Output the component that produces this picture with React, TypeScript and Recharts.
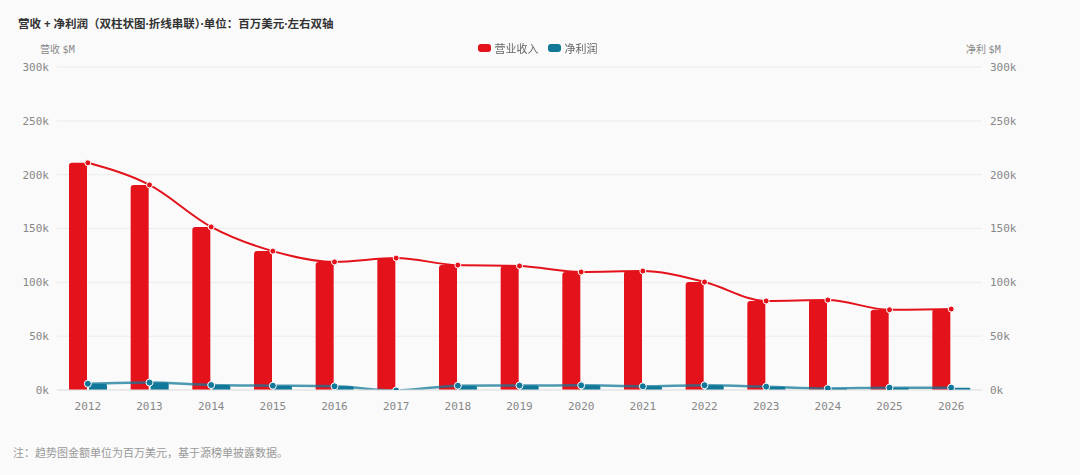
import React from 'react'
import {
  Bar,
  CartesianGrid,
  ComposedChart,
  Line,
  XAxis,
  YAxis,
} from 'recharts'

const RED = '#E3121B'
const BLUE = '#12789A'
const MONO = '"DejaVu Sans Mono", monospace'
const CJK = '"Noto Sans", "Noto Sans CJK SC", sans-serif'

const years = ['2012', '2013', '2014', '2015', '2016', '2017', '2018', '2019', '2020', '2021', '2022', '2023', '2024', '2025', '2026']
// 百万美元
const revenue = [211000, 190500, 151500, 129000, 119000, 122500, 116000, 115200, 109600, 110500, 100300, 82700, 83600, 74500, 75200]
const profit = [5800, 6900, 4600, 4000, 3400, -500, 4000, 4200, 4300, 3400, 4400, 3100, 1500, 2200, 2200]
const yTicks = [0, 50000, 100000, 150000, 200000, 250000, 300000]

const data = years.map((year, i) => ({ year, revenue: revenue[i], profit: profit[i] }))

const fmtK = (v: number) => `${v / 1000}k`

function LegendBox() {
  const item = (color: string, label: string) => (
    <span style={{ display: 'inline-flex', alignItems: 'center', marginRight: 9 }}>
      <span style={{ width: 13, height: 8, borderRadius: 3, background: color, marginRight: 4 }} />
      <span style={{ fontSize: 11, color: '#666', fontFamily: CJK }}>{label}</span>
    </span>
  )
  return (
    <div style={{ position: 'absolute', left: 0, top: 40, width: 1080, display: 'flex', justifyContent: 'center', paddingLeft: 2 }}>
      {item(RED, '营业收入')}
      {item(BLUE, '净利润')}
    </div>
  )
}

export default function App() {
  return (
    <div style={{ position: 'fixed', left: 0, top: 0, width: 1080, height: 475, background: '#fafafa' }}>
      <ComposedChart
        width={1080}
        height={475}
        data={data}
        margin={{ top: 67, right: 0, bottom: 55, left: 0 }}
        barGap={2}
        style={{ position: 'absolute', left: 0, top: 0 }}
      >
        <CartesianGrid yAxisId="left" vertical={false} stroke="#ebebeb" />
        <XAxis
          dataKey="year"
          height={30}
          tickLine={false}
          axisLine={{ stroke: '#e2e2e2' }}
          tick={{ fontSize: 11, fill: '#888', fontFamily: MONO }}
          tickMargin={6}
        />
        <YAxis
          yAxisId="left"
          width={57}
          domain={[0, 300000]}
          ticks={yTicks}
          tickFormatter={fmtK}
          axisLine={false}
          tickLine={false}
          tick={{ fontSize: 11, fill: '#888', fontFamily: MONO }}
        />
        <YAxis
          yAxisId="right"
          orientation="right"
          width={98}
          domain={[0, 300000]}
          allowDataOverflow
          ticks={yTicks}
          tickFormatter={fmtK}
          axisLine={false}
          tickLine={false}
          tick={{ fontSize: 11, fill: '#888', fontFamily: MONO }}
        />
        <Bar yAxisId="left" dataKey="revenue" name="营业收入" fill={RED} barSize={18} radius={[3, 3, 0, 0]} isAnimationActive={false} />
        <Bar yAxisId="right" dataKey="profit" name="净利润" fill={BLUE} barSize={18} radius={[2, 2, 0, 0]} isAnimationActive={false} />
        <Line
          yAxisId="left"
          type="monotone"
          dataKey="revenue"
          stroke={RED}
          strokeWidth={2}
          dot={{ r: 3, fill: RED, stroke: '#fff', strokeWidth: 1 }}
          isAnimationActive={false}
        />
        <Line
          yAxisId="right"
          type="monotone"
          dataKey="profit"
          stroke={BLUE}
          strokeWidth={2.5}
          strokeOpacity={0.75}
          dot={{ r: 3.5, fill: BLUE, stroke: '#fff', strokeWidth: 1, strokeOpacity: 1 }}
          isAnimationActive={false}
        />
      </ComposedChart>
      <div style={{ position: 'absolute', left: 18, top: 15, fontSize: 11.5, fontWeight: 700, color: '#333', fontFamily: CJK }}>
        营收 + 净利润（双柱状图·折线串联）·单位：百万美元·左右双轴
      </div>
      <div style={{ position: 'absolute', left: 40, top: 41, fontSize: 10, color: '#888', fontFamily: CJK }}>
        营收 <span style={{ fontFamily: MONO }}>$M</span>
      </div>
      <div style={{ position: 'absolute', left: 966, top: 41, fontSize: 10, color: '#888', fontFamily: CJK }}>
        净利 <span style={{ fontFamily: MONO }}>$M</span>
      </div>
      <LegendBox />
      <div style={{ position: 'absolute', left: 13, top: 444, fontSize: 11, color: '#999', fontFamily: CJK }}>
        注：趋势图金额单位为百万美元，基于源榜单披露数据。
      </div>
    </div>
  )
}
